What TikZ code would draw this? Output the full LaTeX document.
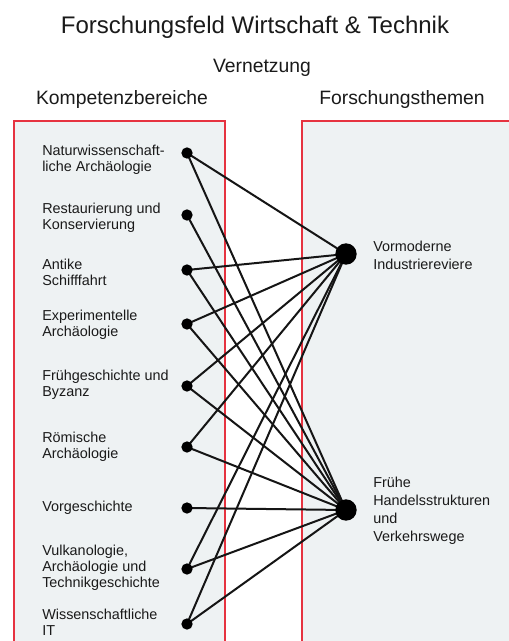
\documentclass[tikz,border=0pt]{standalone}
\usepackage{fontspec}
\setmainfont{Liberation Sans}
\begin{document}
\begin{tikzpicture}[x=0.75pt,y=-0.75pt,
  panelfill/.style={fill=panelbg},
  panelline/.style={draw=panelred,line width=1.3pt},
  itemtext/.style={anchor=west,align=left,inner sep=0pt,text=txt,
    font=\fontsize{10.8}{12}\selectfont},
  topictext/.style={anchor=west,align=left,inner sep=0pt,text=txt,
    font=\fontsize{10.8}{13.5}\selectfont},
  headtext/.style={inner sep=0pt,text=txt,font=\fontsize{14.5}{17}\selectfont},
  smalldot/.style={circle,fill=black,inner sep=0pt,minimum size=8.5pt},
  bigdot/.style={circle,fill=black,inner sep=0pt,minimum size=16pt},
  link/.style={draw=linecol,line width=1.5pt}]
\definecolor{panelred}{HTML}{E63340}
\definecolor{panelbg}{HTML}{EEF2F3}
\definecolor{txt}{HTML}{1A1A1A}
\definecolor{linecol}{HTML}{151515}
\useasboundingbox (0,0) rectangle (508,641);
\fill[white] (0,0) rectangle (508,641);

% the two panels, open towards the bottom and the right
\path[panelfill] (14,121) rectangle (225,650);
\path[panelfill] (302,121) rectangle (520,650);
\path[panelline] (14,650) -- (14,121) -- (225,121) -- (225,650);
\path[panelline] (302,650) -- (302,121) -- (520,121);

% headings
\node[inner sep=0pt,text=txt,font=\fontsize{18}{21}\selectfont] (title) at (255,27) {Forschungsfeld Wirtschaft \& Technik};
\node[headtext] (net) at (262,68) {Vernetzung};
\node[headtext] (kb) at (122,100) {Kompetenzbereiche};
\node[headtext] (ft) at (402,100) {Forschungsthemen};

% competence areas
\node[itemtext] (t1) at (42,160) {Naturwissenschaft-\\liche Archäologie};
\node[itemtext] (t2) at (42,218) {Restaurierung und\\Konservierung};
\node[itemtext] (t3) at (42,272) {Antike\\Schifffahrt};
\node[itemtext] (t4) at (42,324.5) {Experimentelle\\Archäologie};
\node[itemtext] (t5) at (42,385) {Frühgeschichte und\\Byzanz};
\node[itemtext] (t6) at (42,446.5) {Römische\\Archäologie};
\node[itemtext] (t7) at (42,508) {Vorgeschichte};
\node[itemtext] (t8) at (42,568) {Vulkanologie,\\Archäologie und\\Technikgeschichte};
\node[itemtext] (t9) at (42,622) {Wissenschaftliche\\IT};

% research topics
\node[topictext] (ta) at (373,255) {Vormoderne\\Industriereviere};
\node[topictext] (tb) at (373,511) {Frühe\\Handelsstrukturen\\und\\Verkehrswege};

% anchor points of the network
\coordinate (l1) at (187,153);
\coordinate (l2) at (187,215);
\coordinate (l3) at (187,270);
\coordinate (l4) at (187,324);
\coordinate (l5) at (187,386);
\coordinate (l6) at (187,447);
\coordinate (l7) at (187,508);
\coordinate (l8) at (187,569);
\coordinate (l9) at (187,624);
\coordinate (ra) at (346,254);
\coordinate (rb) at (346,510);

% links
\foreach \i in {1,3,4,5,6,8,9} \draw[link] (l\i) -- (ra);
\foreach \i in {1,2,3,4,5,6,7,8,9} \draw[link] (l\i) -- (rb);

% dots on top of the links
\foreach \i in {1,...,9} \node[smalldot] (d\i) at (l\i) {};
\node[bigdot] (da) at (ra) {};
\node[bigdot] (db) at (rb) {};
\end{tikzpicture}
\end{document}
